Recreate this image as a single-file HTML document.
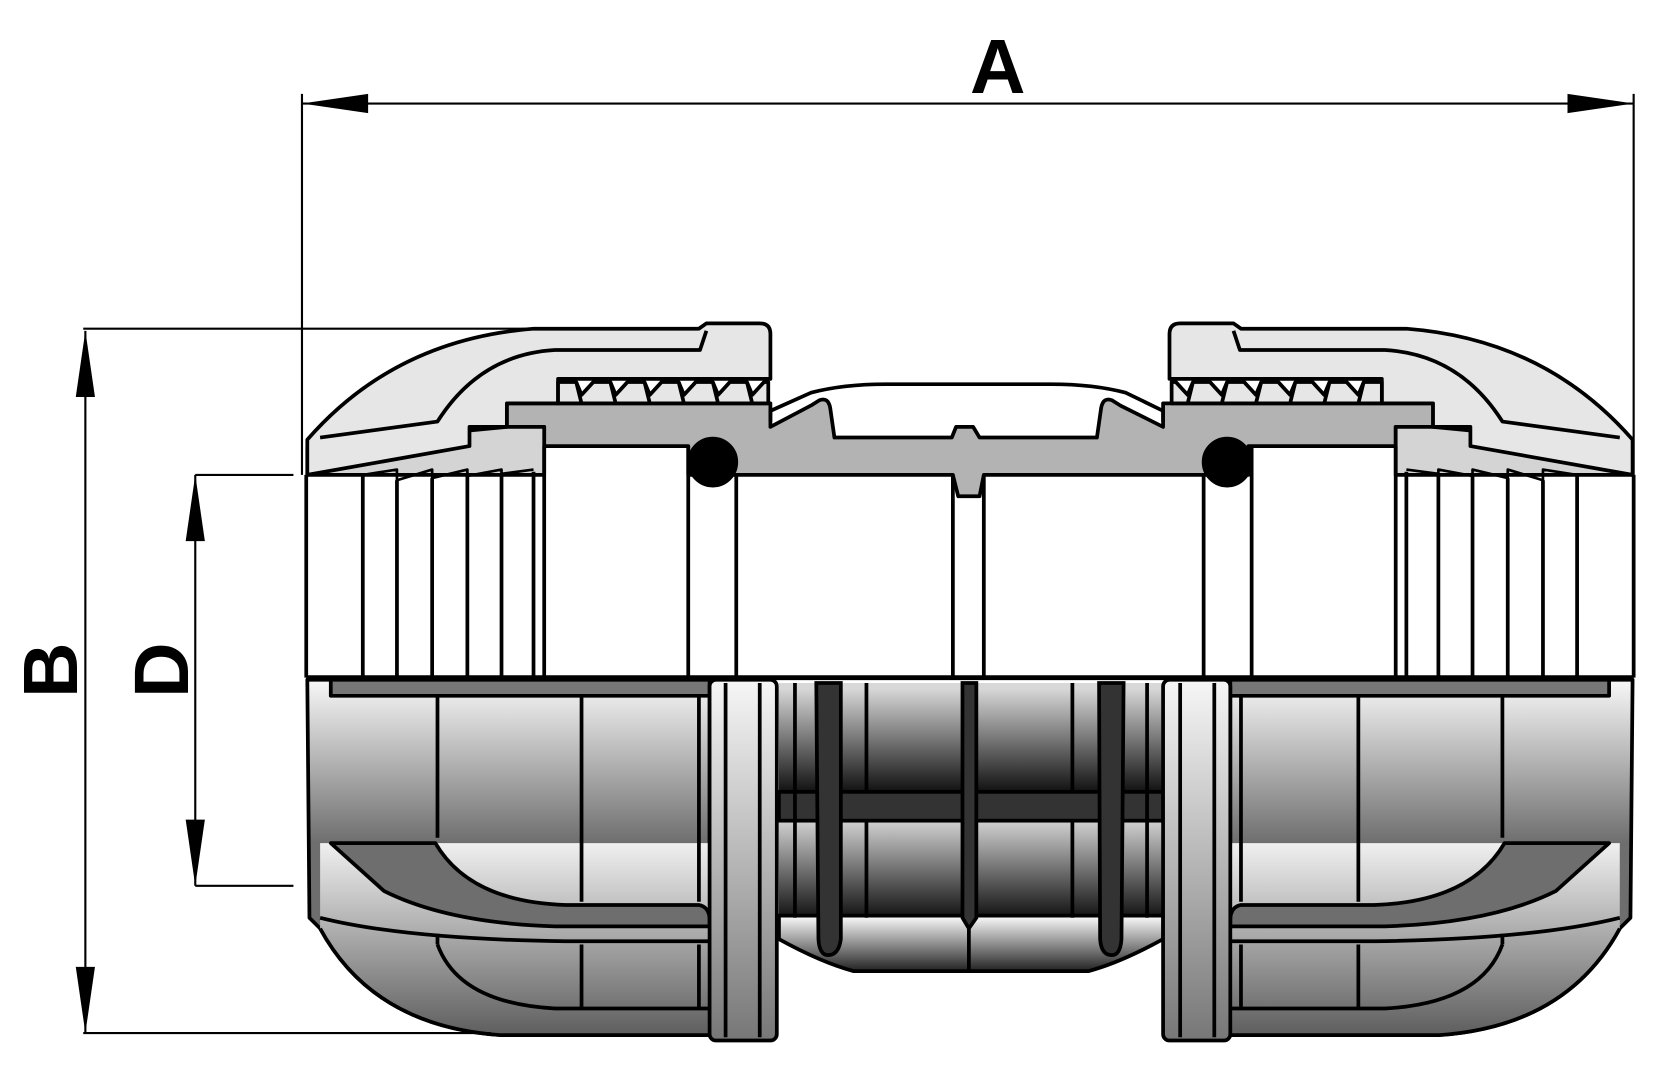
<!DOCTYPE html>
<html><head><meta charset="utf-8"><style>html,body{margin:0;padding:0;background:#fff}svg{display:block}</style></head>
<body>
<svg width="1671" height="1080" viewBox="0 0 1566 1012" preserveAspectRatio="none" xmlns="http://www.w3.org/2000/svg">
<defs>
<linearGradient id="g1" x1="0" y1="640" x2="0" y2="790" gradientUnits="userSpaceOnUse"><stop offset="0" stop-color="#f5f5f5"/><stop offset="1" stop-color="#6e6e6e"/></linearGradient>
<linearGradient id="g2" x1="0" y1="790" x2="0" y2="970" gradientUnits="userSpaceOnUse"><stop offset="0" stop-color="#f0f0f0"/><stop offset="1" stop-color="#5e5e5e"/></linearGradient>
<linearGradient id="gc" x1="0" y1="640" x2="0" y2="975" gradientUnits="userSpaceOnUse"><stop offset="0" stop-color="#f5f5f5"/><stop offset="1" stop-color="#777"/></linearGradient>
<linearGradient id="gd1" x1="0" y1="645" x2="0" y2="742" gradientUnits="userSpaceOnUse"><stop offset="0" stop-color="#d8d8d8"/><stop offset="1" stop-color="#111"/></linearGradient>
<linearGradient id="gd2" x1="0" y1="770" x2="0" y2="860" gradientUnits="userSpaceOnUse"><stop offset="0" stop-color="#d0d0d0"/><stop offset="1" stop-color="#111"/></linearGradient>
<linearGradient id="gl" x1="0" y1="860" x2="0" y2="910" gradientUnits="userSpaceOnUse"><stop offset="0" stop-color="#f5f5f5"/><stop offset="1" stop-color="#222"/></linearGradient>
<g id="half" stroke="#000" stroke-width="3.5" stroke-linejoin="round">
  <path d="M288,418 L475,400 L510,400 L510,445 L288,445 Z" fill="#d4d4d4"/>
  <path d="M288,412 Q370,318 500,308 L655,308 L662,303 L712,303 Q722,303 722,313 L722,355 L523,355 L523,378 L475,378 L475,400 L440,400 L440,418 L288,445 Z" fill="#e6e6e6"/>
  <path d="M662,310 L656,328 L520,328 Q450,332 410,395 L300,410" fill="none"/>
  <path d="M523,378 L523,358 L540,358 L545,370 L556,358 L572,358 L577,370 L588,358 L604,358 L609,370 L620,358 L636,358 L641,370 L652,358 L668,358 L673,370 L684,358 L700,358 L705,370 L716,358 L720,358 L720,378 Z" fill="#e6e6e6"/>
  <path d="M540,358 L545,378 M572,358 L577,378 M604,358 L609,378 M636,358 L641,378 M668,358 L673,378 M700,358 L705,378" fill="none"/>
  <path d="M287,445 L287,635 M340,445 L340,635 M372,450 L372,635 M405,448 L405,635 M438,446 L438,635 M470,444 L470,635 M500,442 L500,635 M510,418 L510,635 M645,418 L645,635 M690,445 L690,635" fill="none"/>
  <path d="M340,445 L372,440 L372,450 L405,440 L405,448 L438,440 L438,446 L470,440 L470,444 L500,440" fill="none" stroke-width="2.5"/>
  <path d="M288,637 L665,637 L665,970 L470,970 Q350,962 300,870 L290,860 Z" fill="url(#g1)"/>
  <path d="M300,790 L665,790 L665,970 L470,970 Q350,962 300,870 Z" fill="url(#g2)" stroke="none"/>
  <path d="M300,870 Q350,962 470,970 L665,970" fill="none"/>
  <rect x="310" y="637" width="355" height="15" fill="#777"/>
  <path d="M410,652 L410,785 M545,652 L545,845 M655,652 L655,845 M410,875 L410,885 M545,885 L545,945 M655,885 L655,945" fill="none"/>
  <path d="M310,790 L408,790 Q440,845 530,848 L655,848 Q665,850 665,862 L665,868 L520,868 Q420,865 360,835 Z" fill="url(#g1)"/>
  <path d="M300,860 Q380,880 530,882 L665,882" fill="none"/>
  <path d="M410,885 Q430,940 520,945 L665,945" fill="none"/>
  <rect x="665" y="637" width="63" height="338" rx="6" fill="url(#gc)"/>
  <path d="M680,640 L680,972 M712,640 L712,972" fill="none"/>
  <circle cx="668" cy="433" r="22" fill="#000"/>
</g>
</defs>

<path d="M475,378 L722,378 L722,400 L760,380 L768,375 Q776,372 778,382 L782,410 L892,410 L896,400 L912,400 L918,410 L1028,410 L1032,382 Q1034,372 1042,375 L1050,380 L1090,400 L1090,378 L1343,378 L1343,400 L1308,400 L1308,418 L1170,418 L1170,445 L922,445 L918,465 L898,465 L893,445 L645,445 L645,418 L510,418 L510,400 L475,400 Z" fill="#b3b3b3" stroke="#000" stroke-width="3.5" stroke-linejoin="round"/>
<path d="M722,395 L722,385 L760,368 Q790,360 830,360 L985,360 Q1025,360 1055,368 L1090,385 L1090,395" fill="none" stroke="#000" stroke-width="3.5"/>
<path d="M893,445 L893,635 M922,445 L922,635" stroke="#000" stroke-width="3.5"/>

<rect x="730" y="640" width="360" height="230" fill="url(#gd1)"/>
<rect x="730" y="770" width="360" height="95" fill="url(#gd2)"/>
<path d="M730,858 L1090,858 L1090,880 Q1050,902 1020,910 L800,910 Q770,902 730,880 Z" fill="url(#gl)" stroke="#000" stroke-width="3.5"/>
<rect x="730" y="742" width="360" height="27" fill="#333" stroke="#000" stroke-width="3.5"/>
<g fill="#333" stroke="#000" stroke-width="3.5">
<path d="M765,640 L788,640 L788,880 Q786,895 776,895 Q768,895 767,880 Z"/>
<path d="M1030,640 L1053,640 L1051,880 Q1050,895 1042,895 Q1032,895 1031,880 Z"/>
<path d="M902,640 L915,640 L915,860 L908,870 L902,860 Z"/>
</g>
<path d="M745,640 L745,860 M812,640 L812,742 M812,770 L812,860 M1005,640 L1005,742 M1005,770 L1005,860 M1075,640 L1075,860 M908,870 L908,910" stroke="#000" stroke-width="3.5"/>

<use href="#half"/>
<use href="#half" transform="translate(1818,0) scale(-1,1)"/>

<path d="M287,635 L1531,635" stroke="#000" stroke-width="4.5"/>

<g stroke="#000" stroke-width="2" fill="none">
<path d="M283,88 L283,445 M1531,88 L1531,445 M283,97 L1531,97"/>
<path d="M78,308 L500,308 M78,968 L460,968 M80,310 L80,968"/>
<path d="M183,445 L275,445 M183,830 L275,830 M183,445 L183,830"/>
</g>
<g fill="#000">
<path d="M283,97 L345,88 L345,106 Z"/><path d="M1531,97 L1469,88 L1469,106 Z"/>
<path d="M80,310 L71,372 L89,372 Z"/><path d="M80,968 L71,906 L89,906 Z"/>
<path d="M183,445 L174,507 L192,507 Z"/><path d="M183,830 L174,768 L192,768 Z"/>
</g>
<g font-family="Liberation Sans, sans-serif" font-size="72" font-weight="bold" fill="#000" text-anchor="middle">
<text x="935" y="87">A</text>
<text transform="translate(72,628) rotate(-90)">B</text>
<text transform="translate(176,628) rotate(-90)">D</text>
</g>
</svg>
</body></html>
